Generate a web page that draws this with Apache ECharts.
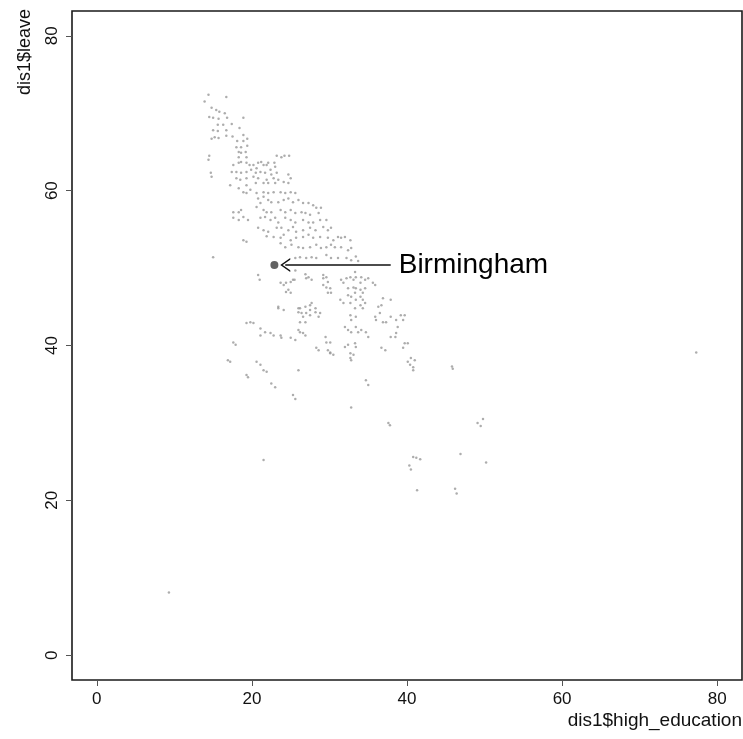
<!DOCTYPE html>
<html><head><meta charset="utf-8">
<script src="https://cdn.jsdelivr.net/npm/echarts@6/dist/echarts.min.js"></script>
<style>html,body{margin:0;padding:0;background:#fff}#c{width:743px;height:739px}</style>
</head><body><div id="c"></div>
<script>
// Axis ticks
const xTicks = [0, 20, 40, 60, 80];
const yTicks = [0, 20, 40, 60, 80];
const xLabel = 'dis1$high_education';
const yLabel = 'dis1$leave';

// Points [high_education, leave]
const topGroup = [
[14.4,72.4],[16.7,72.1],[13.9,71.5],[14.8,70.7],[15.4,70.4],[15.8,70.2],[16.5,70.0],[14.5,69.5],[15.0,69.4],[15.7,69.3],[16.8,69.4],[18.9,69.4],[15.6,68.5],[16.3,68.5],[17.4,68.6],[16.7,67.8],[18.4,68.1],[15.0,67.8],[15.6,67.7],[17.5,67.0],[18.9,67.2],[15.2,66.9],[15.7,66.8],[14.8,66.7],[16.7,67.1],[18.1,66.4],[18.9,66.4],[19.4,66.7],[18.0,65.6],[18.6,65.6],[19.4,65.8],[14.5,64.5],[14.4,64.0],[14.7,62.3],[14.8,61.8]
];
const upperBand = [
[18.3,65.0],[18.6,64.9],[19.2,65.0],[18.3,64.3],[19.3,64.3],[23.2,64.5],[23.8,64.3],[24.2,64.5],[24.8,64.5],
[17.6,63.3],[17.4,62.4],[18.3,63.6],[18.6,63.7],[19.3,63.6],[19.7,63.3],[20.2,63.3],[20.6,62.9],[20.8,63.6],[21.2,63.7],[21.5,63.3],[21.9,63.3],[22.1,63.6],[22.9,63.6],[23.0,63.1],
[18.0,62.4],[18.6,62.3],[19.3,62.4],[19.9,62.7],[20.5,62.3],[21.1,62.4],[21.7,62.3],[22.4,62.7],[22.5,62.1],[23.2,62.3],[24.7,62.1],
[17.2,60.7],[18.0,61.6],[18.5,61.4],[19.3,61.6],[19.3,60.7],[20.2,61.8],[20.5,61.0],[20.8,61.6],[21.5,61.0],[21.9,61.4],[22.1,61.0],[22.8,61.6],[23.0,61.0],[23.4,61.4],[24.1,61.1],[24.7,61.0],[25.0,61.6],
[18.3,60.3],[18.9,59.8],[19.3,59.7],[19.8,60.1],[20.6,59.7],[21.5,59.8],[22.1,59.7],[22.8,59.8],[23.7,59.8],[24.3,59.7],[25.0,59.8],[25.6,59.7],
[20.8,59.0],[21.5,59.2],[22.1,58.8],[21.1,58.4],[22.5,58.5],[23.4,58.5],[24.1,58.8],[24.7,59.0],[25.3,58.5],[26.0,58.8],[26.6,58.4],[27.3,58.4],[27.9,58.1],[28.3,57.8],[28.9,57.8],
[20.6,57.9],[21.5,57.5],[21.9,57.2],[22.5,57.2],[23.7,57.5],[24.3,57.2],[25.0,57.5],[25.6,57.1],[26.4,57.2],[26.9,57.1],[27.5,56.9],[28.6,57.1],
[17.6,57.2],[18.3,57.2],[18.6,57.5],
[17.6,56.5],[18.3,56.2],[18.9,56.6],[19.5,56.2],[21.1,56.5],[21.7,56.6],[22.4,56.2],[23.0,56.5],[23.4,55.9],[24.3,56.5],[25.0,56.2],[25.6,55.9],[26.6,56.2],[27.3,55.9],[27.9,55.9],[28.8,56.2],[29.6,56.2],
[20.8,55.2],[21.5,54.9],[22.1,54.7],[23.2,55.2],[23.8,55.2],[24.7,54.9],[25.3,55.3],[25.7,54.7],[26.6,54.9],[27.5,55.2],[28.2,54.9],[29.2,55.3],[29.8,54.9],[30.2,55.2],
[21.9,54.1],[22.8,54.0],[23.7,53.9],[24.1,54.3],[25.0,53.6],[25.7,53.9],[26.6,54.0],[27.3,54.3],[27.9,53.9],[28.8,54.0],[29.8,53.9],[30.5,53.6],[31.1,54.0],[31.5,53.9],
[18.9,53.6],[19.3,53.4],
[23.7,53.2],[24.3,52.7],[25.1,53.0],[26.0,52.7],[26.6,52.6],[27.5,52.7],[28.3,53.0],[28.9,52.6],[29.6,52.7],[30.2,53.0],[31.5,52.7],
[25.6,51.3],[26.2,51.4],[27.0,51.3],[27.7,51.4],[28.3,51.3],[29.6,51.7],[30.2,51.3],
[15.0,51.4],
[32.0,54.0],[32.7,53.6],[32.8,52.6],[30.7,52.7],[32.4,52.3],[33.4,51.5],[33.7,50.9],[31.1,51.3],[32.2,51.3],[32.8,51.0]
];
const middleBand = [
[23.7,48.1],[24.1,47.8],[25.0,48.2],[25.3,48.5],[24.7,47.2],[27.0,48.7],[27.7,48.5],[29.2,48.7],[29.6,47.5],[30.1,47.4],[29.8,48.2],
[23.4,45.0],[26.2,44.8],[26.9,45.0],[27.5,45.2],
[20.8,49.1],[21.0,48.5],[24.4,48.1],[25.5,48.5],[24.4,46.9],[25.0,46.8],[25.6,49.7],[26.9,49.2],[27.3,48.8],[29.2,49.1],[29.6,48.8],[29.2,47.8],[29.8,46.8],[30.2,46.8],
[31.5,48.5],[31.8,48.1],[32.2,48.7],[32.7,48.8],[33.1,48.5],[33.3,49.5],[33.4,48.8],[34.0,48.1],[34.1,48.8],[34.6,48.5],[35.0,48.7],[35.6,48.1],[35.9,47.8],
[32.4,47.4],[33.1,47.5],[33.4,47.4],[34.0,47.2],[34.3,46.8],[34.6,47.4],
[32.4,46.5],[32.8,46.3],[33.3,46.8],[34.0,46.3],[34.3,45.9],[33.4,45.9],
[31.4,45.9],[31.8,45.5],[32.7,45.5],[34.0,45.2],[34.6,45.5],
[33.3,44.8],[34.3,44.8],[32.7,43.9],[33.4,43.7],[32.8,43.3],
[35.9,43.7],[36.0,43.3],[36.5,44.2],[36.7,45.2],[36.3,45.0],[36.9,46.1],[36.9,43.0],
[37.9,45.9],[37.9,43.7],[38.6,43.3],[38.8,42.4],[39.2,43.9],[39.7,43.9],[39.5,43.3],[37.3,43.0],
[26.0,44.8],[27.7,45.5],[28.2,44.8],[27.5,44.6],[26.0,44.3],[26.4,44.2],[27.0,44.2],[27.5,43.9],[28.2,44.3],[28.8,44.2],[28.6,43.7],[26.6,43.7],[26.9,43.0],[26.2,43.0],
[23.4,44.8],[24.1,44.6],
[19.3,42.9],[19.8,43.0],[20.2,42.9],
[21.1,42.2],[21.1,41.3],[21.7,41.7],[22.4,41.6],[22.8,41.3],[23.7,41.3],[23.8,41.0],[25.0,41.0],[25.6,40.7],
[26.0,42.0],[26.2,41.7],[26.6,41.6],[26.9,41.3],
[29.5,41.1],[29.6,40.4],[30.1,40.4],
[32.0,42.4],[32.4,42.0],[32.8,41.7],[33.4,42.4],[34.1,42.0],[34.7,41.7],[35.0,41.1],[33.7,41.7],
[38.5,41.1],[38.6,41.6],[37.9,41.1]
];
const lowerGroup = [
[39.7,40.3],[39.5,39.7],[40.1,40.3],[40.5,38.4],[41.0,38.1],[40.1,37.9],[40.4,37.5],[40.8,37.2],[40.8,36.8],
[36.7,39.7],[37.2,39.4],
[32.0,39.8],[32.4,40.1],[33.3,40.3],[33.4,39.8],[32.7,39.0],[33.1,38.8],[32.7,38.4],[32.8,38.1],[30.1,39.1],
[17.6,40.4],[17.9,40.1],[28.3,39.7],[28.6,39.4],[29.8,39.4],[30.1,39.0],[30.5,38.8],
[16.9,38.1],[17.2,37.9],
[20.6,37.9],[21.1,37.5],[21.5,36.8],[21.9,36.6],[19.3,36.2],[19.5,35.9],[22.5,35.1],[23.0,34.6],[26.0,36.8],[25.3,33.6],[25.6,33.1],
[34.7,35.5],[35.0,34.9],[32.8,32.0],[37.6,30.0],[37.8,29.7],
[45.8,37.3],[45.9,37.0],
[49.8,30.5],[49.1,30.0],[49.5,29.6],[46.9,26.0],
[40.8,25.6],[41.2,25.5],[41.7,25.3],[40.3,24.5],[40.5,24.0],[50.2,24.9],
[41.3,21.3],[46.2,21.5],[46.4,20.9],[21.5,25.2]
];
const outliers = [[9.3,8.1],[77.3,39.1]];

// Highlighted district and its arrow
const highlightName = 'Birmingham';
const highlightPoint = [22.9, 50.4];
const arrowFromX = 37.9;
const arrowToX = 24.3;

const FONT = 'Liberation Sans, Arial, Helvetica, sans-serif';
const chart = echarts.init(document.getElementById('c'), null, {renderer: 'canvas'});

const allPoints = [].concat(topGroup, upperBand, middleBand, lowerGroup, outliers);

chart.setOption({
  animation: false,
  backgroundColor: '#fff',
  grid: {left: 72, right: 1, top: 11, bottom: 59, show: true, borderColor: '#1a1a1a', borderWidth: 1.6, backgroundColor: 'transparent'},
  xAxis: {
    type: 'value', min: -3.2, max: 83.2,
    axisLine: {show: false, onZero: false},
    splitLine: {show: false},
    axisTick: {show: true, length: 6, inside: false, customValues: xTicks, lineStyle: {color: '#555', width: 1}},
    axisLabel: {show: true, customValues: xTicks, margin: 11, fontSize: 17, color: '#111', fontFamily: FONT}
  },
  yAxis: {
    type: 'value', min: -3.2, max: 83.2,
    axisLine: {show: false, onZero: false},
    splitLine: {show: false},
    axisTick: {show: true, length: 6, inside: false, customValues: yTicks, lineStyle: {color: '#555', width: 1}},
    axisLabel: {show: true, customValues: yTicks, rotate: 90, margin: 11, fontSize: 17, color: '#111', fontFamily: FONT}
  },
  graphic: [
    {type: 'text', right: 1, top: 711, style: {text: xLabel, font: '19px ' + FONT, fill: '#111'}},
    {type: 'text', x: 25, y: 52, rotation: Math.PI / 2, style: {text: yLabel, font: '18px ' + FONT, fill: '#111', align: 'center', verticalAlign: 'middle'}}
  ],
  series: [
    {
      type: 'scatter', data: allPoints, symbol: 'circle', symbolSize: 2.5,
      itemStyle: {color: '#999'}, silent: true
    },
    {
      type: 'scatter', data: [highlightPoint], symbol: 'circle', symbolSize: 8,
      itemStyle: {color: '#3c3c3c'}, silent: true,
      markLine: {
        silent: true, animation: false,
        symbol: ['none', 'path://M0,10 L7,0 L14,10 L12.3,10 L7,2.4 L1.7,10 Z'],
        symbolSize: [14, 10],
        lineStyle: {color: '#111', width: 1.6, type: 'solid'},
        label: {show: true, position: 'start', formatter: highlightName, fontSize: 28, color: '#000', fontFamily: FONT, distance: 8},
        data: [[{coord: [arrowFromX, highlightPoint[1]]}, {coord: [arrowToX, highlightPoint[1]]}]]
      }
    }
  ]
});
</script>
</body></html>
